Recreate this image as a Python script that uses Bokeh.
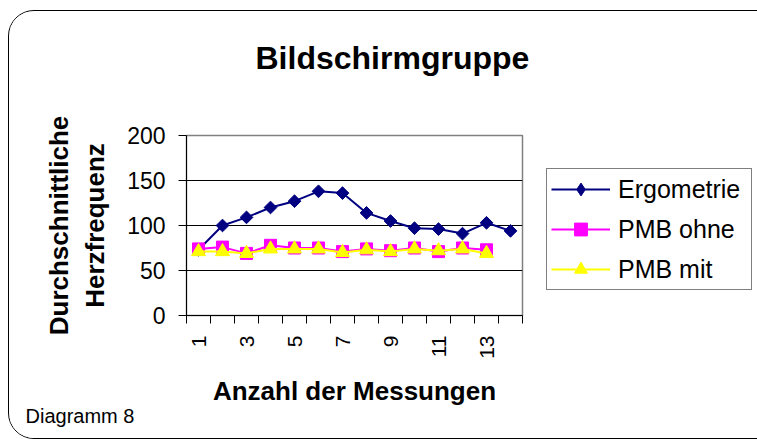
import math
from bokeh.plotting import figure
from bokeh.models import (Range1d, FixedTicker, Legend, LegendItem, Title)
from bokeh.embed import file_html
from bokeh.resources import INLINE

# ---- data ----
measurements = list(range(1, 15))
ergometrie = [73, 100, 109, 120, 127, 138, 136, 114, 105, 97, 96, 91, 103, 94]
pmb_ohne = [74, 76, 69, 78, 75, 75, 71, 74, 72, 75, 71, 75, 73]
pmb_mit = [71, 71, 69, 74, 74, 74, 70, 73, 71, 74, 72, 74, 69]
x_tick_values = [1, 3, 5, 7, 9, 11, 13]
x_boundaries = [i + 0.5 for i in range(0, 15)]
y_tick_values = [0, 50, 100, 150, 200]

title_text = "Bildschirmgruppe"
x_label = "Anzahl der Messungen"
y_label = "Durchschnittliche\nHerzfrequenz"
footer_text = "Diagramm 8"
series_names = ["Ergometrie", "PMB ohne", "PMB mit"]

FONT = "Liberation Sans"

p = figure(
    title=None,
    frame_width=336, frame_height=180,
    min_border_left=177, min_border_right=234,
    min_border_top=124, min_border_bottom=123,
    x_range=Range1d(0.5, 14.5), y_range=Range1d(0, 200),
    output_backend="svg", toolbar_location=None,
    background_fill_color="white", border_fill_color="white",
)
p.styles = {"border": "1px solid #000000", "border-radius": "26px",
            "overflow": "hidden", "margin-left": "8px", "margin-top": "10px"}
p.outline_line_color = "#808080"
p.outline_line_width = 1.5

# title (outermost) with a spacer between it and the frame
spacer = Title(text=" ", text_font_size="1px", standoff=28)
main_title = Title(text=title_text, align="left", offset=69, standoff=54,
                   vertical_align="top",
                   text_font=FONT, text_font_style="bold", text_font_size="32px",
                   text_color="black")
p.above = [spacer, main_title]

# axes
xa = p.xaxis[0]
xa.ticker = FixedTicker(ticks=x_tick_values, minor_ticks=x_boundaries)
xa.major_tick_line_color = None
xa.minor_tick_line_color = "black"
xa.minor_tick_in = 0
xa.minor_tick_out = 8
xa.axis_line_color = "black"
xa.major_label_orientation = math.pi / 2
xa.major_label_standoff = 12
xa.major_label_text_font = FONT
xa.major_label_text_font_size = "21px"
xa.major_label_text_color = "black"
xa.axis_label = x_label
xa.axis_label_text_font = FONT
xa.axis_label_text_font_style = "bold"
xa.axis_label_text_font_size = "26px"
xa.axis_label_text_color = "black"
xa.axis_label_standoff = 14

ya = p.yaxis[0]
ya.ticker = FixedTicker(ticks=y_tick_values)
ya.major_tick_in = 0
ya.major_tick_out = 8
ya.major_tick_line_color = "black"
ya.minor_tick_line_color = None
ya.axis_line_color = "black"
ya.major_label_standoff = 13
ya.major_label_text_font = FONT
ya.major_label_text_font_size = "23px"
ya.major_label_text_color = "black"
ya.axis_label = y_label
ya.axis_label_text_font = FONT
ya.axis_label_text_font_style = "bold"
ya.axis_label_text_font_size = "26px"
ya.axis_label_text_color = "black"
ya.axis_label_standoff = 14

p.xgrid.visible = False
p.ygrid[0].ticker = FixedTicker(ticks=y_tick_values)
p.ygrid.grid_line_color = "#000000"
p.ygrid.grid_line_width = 1

# series
l1 = p.line(measurements, ergometrie, line_color="#000080", line_width=2)
s1 = p.scatter(measurements, ergometrie, marker="square", angle=math.pi / 4,
               size=9, fill_color="#000080", line_color="#000080")
# diamond-shaped marker used for the legend swatch only
s1_key = p.scatter(measurements, ergometrie, marker="diamond", size=14,
                   fill_color="#000080", line_color="#000080", visible=False)
x2 = measurements[:len(pmb_ohne)]
l2 = p.line(x2, pmb_ohne, line_color="#FF00FF", line_width=2)
s2 = p.scatter(x2, pmb_ohne, marker="square", size=12,
               fill_color="#FF00FF", line_color="#FF00FF")
x3 = measurements[:len(pmb_mit)]
l3 = p.line(x3, pmb_mit, line_color="#FFFF00", line_width=2)
s3 = p.scatter(x3, pmb_mit, marker="triangle", size=14,
               fill_color="#FFFF00", line_color="#FFFF00")

legend = Legend(
    items=[
        LegendItem(label=series_names[0], renderers=[l1, s1_key]),
        LegendItem(label=series_names[1], renderers=[l2, s2]),
        LegendItem(label=series_names[2], renderers=[l3, s3]),
    ],
    location=(24, 25),
    orientation="vertical",
    glyph_width=59, glyph_height=32, label_height=32,
    label_width=129,
    label_standoff=8, spacing=8, padding=4, margin=0,
    label_text_font=FONT, label_text_font_size="25px", label_text_color="black",
    border_line_color="black", border_line_width=1,
    background_fill_color="white", background_fill_alpha=1,
)
p.add_layout(legend, "right")

footer = Title(text=footer_text, align="left", offset=-161,
               text_font=FONT, text_font_style="normal", text_font_size="20px",
               text_color="black", standoff=-12)
p.add_layout(footer, "below")

open("out.html", "w").write(file_html(p, INLINE))
